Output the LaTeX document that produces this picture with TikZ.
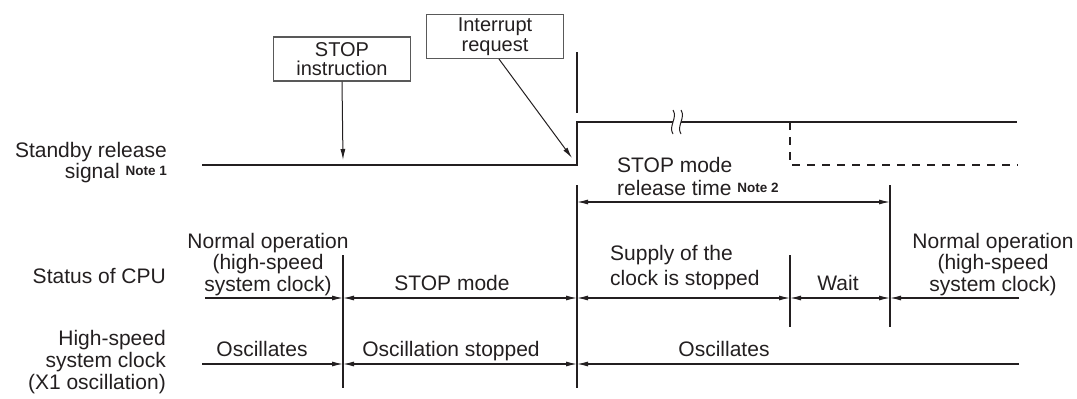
\documentclass[tikz,border=0pt]{standalone}
\usepackage{fontspec}
\setmainfont{Liberation Sans}
\usetikzlibrary{arrows.meta,calc,positioning}
\definecolor{ink}{RGB}{35,31,32}
\tikzset{>={Latex[length=11pt,width=5pt]},
  every node/.style={text=ink,inner sep=0pt},
  lbl/.style={font=\fontsize{21}{21.5}\selectfont},
  evbox/.style={draw=black!65,line width=1.1pt,align=center,minimum width=137pt,
    minimum height=44pt,font=\fontsize{20}{19.5}\selectfont},
  sig/.style={draw=ink,line width=2.9pt},
  sigdash/.style={sig,dash pattern=on 8pt off 7pt},
  guide/.style={draw=ink,line width=1.1pt},
  tspan/.style={guide,<->},
  pointer/.style={draw=ink,line width=1pt,->}}
\newcommand{\notemark}[1]{\raisebox{3pt}{\fontsize{13.5}{13.5}\selectfont\bfseries Note #1}}

\begin{document}
\begin{tikzpicture}[x=1pt,y=-1pt]
\useasboundingbox (0,0) rectangle (1077,399);
% time marks and rows
\coordinate (t0) at (202,0); \coordinate (tstop) at (343,0); \coordinate (tirq) at (577,0);
\coordinate (twait) at (790,0); \coordinate (trun) at (890,0); \coordinate (tend) at (1019,0);
\coordinate (ylow) at (0,165); \coordinate (yhigh) at (0,122); \coordinate (yrel) at (0,202);
\coordinate (ycpu) at (0,298); \coordinate (yosc) at (0,364);
% row labels
\node[lbl,align=right,anchor=north east] (sbl) at (167,142) {Standby release\\signal \notemark{1}};
\node[lbl,anchor=base east] (cpul) at (166,283) {Status of CPU};
\node[lbl,align=right,anchor=north east,font=\fontsize{21}{22}\selectfont] (oscl) at (166,330) {High-speed\\system clock\\(X1 oscillation)};
% events
\node[evbox] (stopbox) at (342,59) {STOP\\instruction};
\node[evbox] (irqbox) at (495,36.5) {Interrupt\\request};
\coordinate (stoptip) at (343,160); \coordinate (irqtip) at (572,158);
\draw[pointer] (stopbox.south) -- (stoptip);
\draw[pointer] ([xshift=4pt]irqbox.south) -- (irqtip);
% standby release signal
\draw[sig] (t0 |- ylow) -- (tirq |- ylow) -- (tirq |- yhigh) -- (1017,122);
\draw[sigdash] (twait |- yhigh) -- (twait |- ylow) -- (1018,165);
\fill[white] (673,134) .. controls (668,126) and (678,118) .. (673,110) -- (681,110) .. controls (686,118) and (676,126) .. (681,134) -- cycle;
\draw[ink,line width=1pt] (673,134) .. controls (668,126) and (678,118) .. (673,110);
\draw[ink,line width=1pt] (681,134) .. controls (676,126) and (686,118) .. (681,110);
% vertical marks
\draw[guide] (577,52) -- (577,113); \draw[guide] (577,185) -- (577,388);
\draw[guide] (343,255) -- (343,388);
\draw[guide] (790,255) -- (790,327); \draw[guide] (890,185) -- (890,327);
% release time
\draw[tspan] (tirq |- yrel) -- (trun |- yrel);
\node[lbl,align=left,anchor=north west,font=\fontsize{21}{23}\selectfont] (reltxt) at (617,157) {STOP mode\\release time \notemark{2}};
% status of CPU
\draw[guide,->] (205,298) -- (tstop |- ycpu);
\draw[tspan] (tstop |- ycpu) -- (tirq |- ycpu);
\draw[tspan] (tirq |- ycpu) -- (twait |- ycpu);
\draw[tspan] (twait |- ycpu) -- (trun |- ycpu);
\draw[guide,->] (tend |- ycpu) -- (trun |- ycpu);
\node[lbl,align=center,anchor=north] (norm1) at (268,233) {Normal operation\\(high-speed\\system clock)};
\node[lbl,anchor=base] (stopm) at (452,290) {STOP mode};
\node[lbl,align=left,anchor=north west,font=\fontsize{21}{25}\selectfont] (supply) at (610,245) {Supply of the\\clock is stopped};
\node[lbl,anchor=base] (wait) at (838,290) {Wait};
\node[lbl,align=center,anchor=north] (norm2) at (993,233) {Normal operation\\(high-speed\\system clock)};
% high-speed system clock
\draw[guide,->] (t0 |- yosc) -- (tstop |- yosc);
\draw[tspan] (tstop |- yosc) -- (tirq |- yosc);
\draw[guide,->] (tend |- yosc) -- (tirq |- yosc);
\node[lbl,anchor=base] (osc1) at (262,356) {Oscillates};
\node[lbl,anchor=base] (oscstop) at (451,356) {Oscillation stopped};
\node[lbl,anchor=base] (osc2) at (724,356) {Oscillates};
\end{tikzpicture}
\end{document}
